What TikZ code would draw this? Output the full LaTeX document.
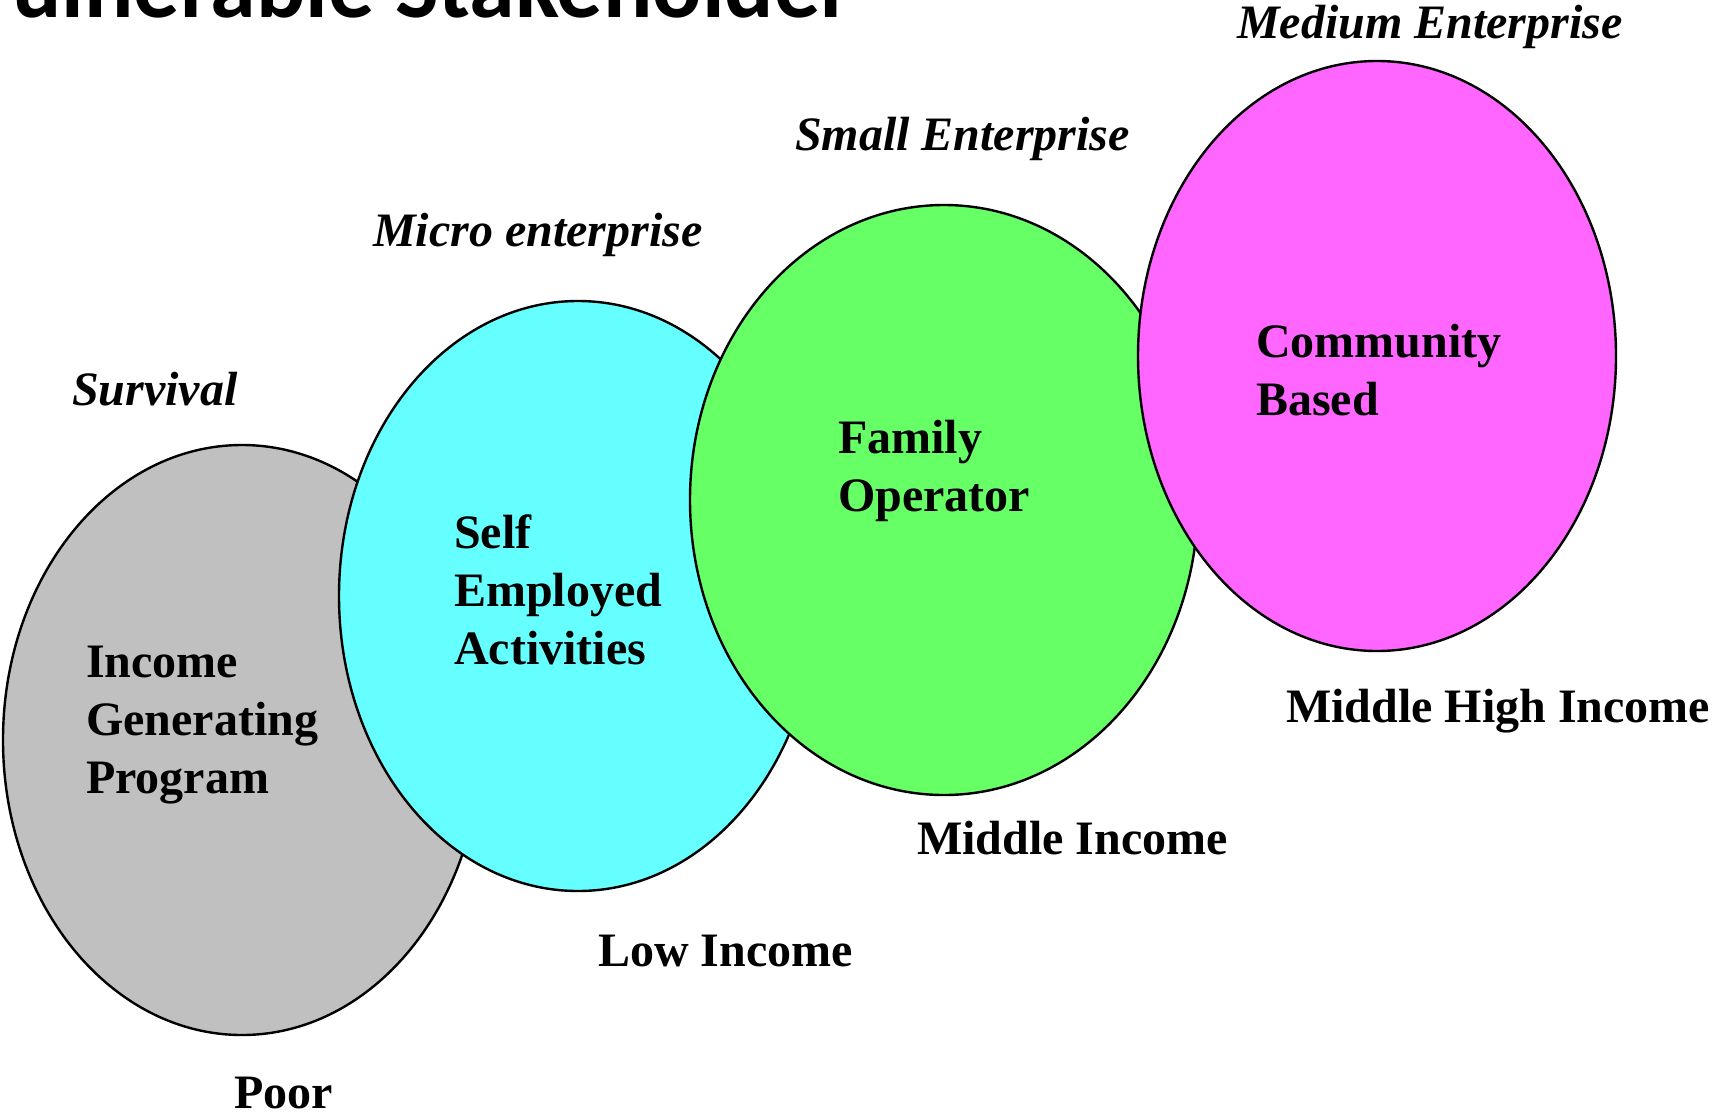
\documentclass[tikz,border=0pt]{standalone}
\usepackage{fontspec}
\setmainfont{Liberation Serif}
\newfontfamily\titlefont{Carlito}
\usetikzlibrary{shapes.geometric}
\definecolor{cgrey}{HTML}{C0C0C0}
\definecolor{ccyan}{HTML}{66FFFF}
\definecolor{cgreen}{HTML}{66FF66}
\definecolor{cmag}{HTML}{FF66FF}
\tikzset{
  blob/.style={ellipse, draw=black, line width=2.4pt, inner sep=0pt, minimum width=478pt, minimum height=590pt},
  lvl/.style={font=\fontsize{48}{58}\selectfont\bfseries\itshape, inner sep=0pt, anchor=base west},
  inlbl/.style={font=\fontsize{48}{58}\selectfont\bfseries, inner sep=0pt, anchor=base west, align=left},
  inc/.style={font=\fontsize{48}{58}\selectfont\bfseries, inner sep=0pt, anchor=base west},
}
\begin{document}
\begin{tikzpicture}[x=1pt,y=-1pt]
\useasboundingbox (0,0) rectangle (1712,1114);
\fill[white] (0,0) rectangle (1712,1114);
\begin{scope}
\clip (0,0) rectangle (1712,1114);
\node[font=\fontsize{92}{110}\selectfont\titlefont\bfseries, inner sep=0pt, anchor=base east] (title) at (853,17) {Vulnerable Stakeholder};
\end{scope}
% ellipses
\node[blob, fill=cgrey] (e1) at (242,740) {};
\node[blob, fill=ccyan] (e2) at (578,596) {};
\node[blob, fill=cgreen, minimum width=508pt] (e3) at (944,500) {};
\node[blob, fill=cmag] (e4) at (1377,356) {};
% level labels
\node[lvl] (l1) at (72,405) {Survival};
\node[lvl] (l2) at (373,246) {Micro enterprise};
\node[lvl] (l3) at (795,150) {Small Enterprise};
\node[lvl] (l4) at (1237,38) {Medium Enterprise};
% inner labels (anchor is the baseline of the last line)
\node[inlbl] (t1) at (86,793) {Income\\Generating\\Program};
\node[inlbl] (t2) at (454,664) {Self\\Employed\\Activities};
\node[inlbl] (t3) at (838,511) {Family\\Operator};
\node[inlbl] (t4) at (1256,415) {Community\\Based};
% income labels
\node[inc] (i1) at (234,1108) {Poor};
\node[inc] (i2) at (598,966) {Low Income};
\node[inc] (i3) at (917,854) {Middle Income};
\node[inc] (i4) at (1286,722) {Middle High Income};
\end{tikzpicture}
\end{document}
